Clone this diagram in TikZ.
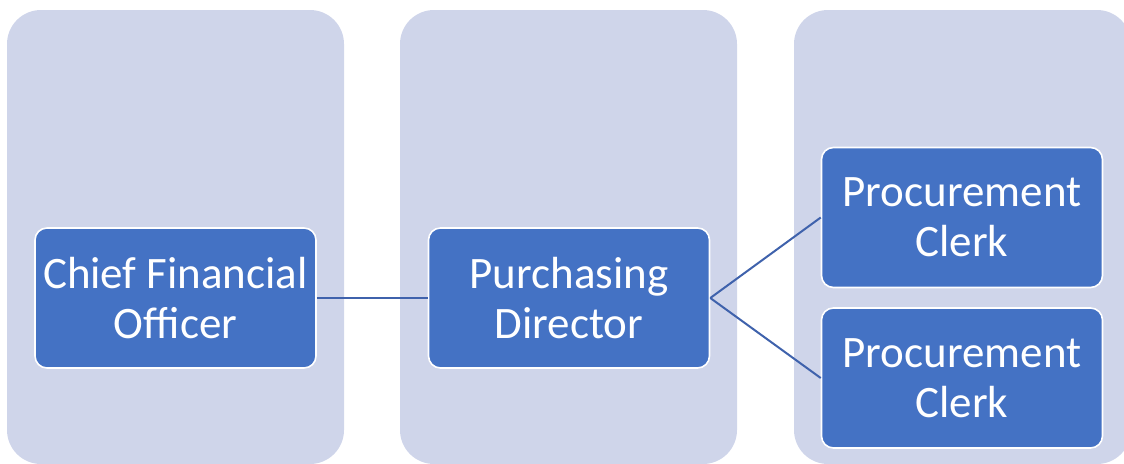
\documentclass[tikz,border=0pt]{standalone}
\usepackage{fontspec}
\setmainfont{Carlito}
\definecolor{lane}{HTML}{CFD5EA}
\definecolor{boxblue}{HTML}{4472C4}
\definecolor{linkblue}{HTML}{3F62AC}
\begin{document}
\begin{tikzpicture}[x=1pt,y=-1pt,
  lanebox/.style={fill=lane,draw=none,rounded corners=34pt},
  rolebox/.style={draw=white,line width=1.6pt,fill=boxblue,rounded corners=12pt,
    minimum width=281pt,minimum height=140pt,inner sep=0pt,align=center,
    text=white,font=\fontsize{45}{50}\selectfont},
  link/.style={draw=linkblue,line width=2pt}]
\useasboundingbox (0,0) rectangle (1124,463);
\fill[lanebox] (7,10) rectangle (344,464);
\fill[lanebox] (400,10) rectangle (737,464);
\fill[lanebox] (794,10) rectangle (1131,464);
\node[rolebox] (cfo) at (175.5,298) {Chief Financial\\Officer};
\node[rolebox] (pd) at (569,298) {Purchasing\\Director};
\node[rolebox] (c1) at (962,217.5) {Procurement\\Clerk};
\node[rolebox] (c2) at (962,378) {Procurement\\Clerk};
\draw[link] (cfo.east) -- (pd.west);
\draw[link] (pd.east) -- (c1.west);
\draw[link] (pd.east) -- (c2.west);
\end{tikzpicture}
\end{document}
